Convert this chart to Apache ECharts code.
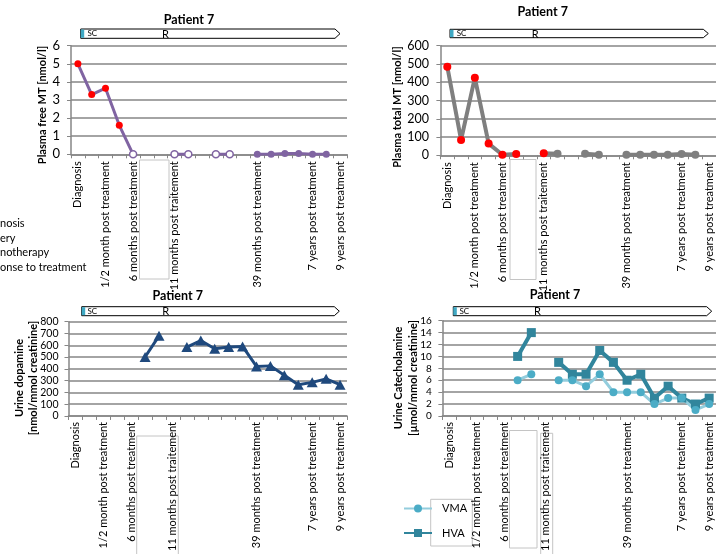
<!DOCTYPE html>
<html>
<head>
<meta charset="utf-8">
<script src="https://cdn.jsdelivr.net/npm/echarts@6/dist/echarts.min.js"></script>
<style>
html,body{margin:0;padding:0;background:#fff;}
#chart{width:716px;height:554px;}
</style>
</head>
<body>
<div id="chart"></div>
<script>
// ---------- data ----------
const categories = ['Diagnosis','','1/2 month post treatment','','6 months post treatment','','','11 months post traitement','','','','','','39 months post treatment','','','','7 years post treatment','','9 years post treatment'];

// Plasma free MT [nmol/l]; status: H = elevated (red), O = open marker, F = filled marker
const freeMt       = [5.0, 3.3, 3.65, 1.6, 0, null, null, 0, 0, null, 0, 0, null, 0, 0, 0.05, 0.05, 0, 0, null];
const freeMtStatus = ['H','H','H','H','O',null,null,'O','O',null,'O','O',null,'F','F','F','F','F','F',null];

// Plasma total MT [nmol/l]
const totalMt       = [485, 84, 425, 64, 3, 7, null, 11, 8, null, 8, 3, null, 3, 3, 3, 3, 7, 3, null];
const totalMtStatus = ['H','H','H','H','H','H',null,'H','F',null,'F','F',null,'F','F','F','F','F','F',null];

// Urine dopamine [nmol/mmol creatinine]
const dopamine = [null, null, null, null, null, 500, 680, null, 585, 640, 570, 585, 590, 420, 425, 345, 265, 285, 315, 265];

// Urine catecholamine metabolites [µmol/mmol creatinine]
const vma = [null, null, null, null, null, 6, 7, null, 6, 6, 5, 7, 4, 4, 4, 2, 3, 3, 1, 2];
const hva = [null, null, null, null, null, 10, 14, null, 9, 7, 7, 11, 9, 6, 7, 3, 5, 3, 2, 3];

const titles = ['Patient 7','Patient 7','Patient 7','Patient 7'];
const yNames = ['Plasma free MT [nmol/l]','Plasma total MT [nmol/l]','Urine dopamine\n[nmol/mmol creatinine]','Urine Catecholamine\n[µmol/mmol creatinine]'];
const yMax = [6, 600, 800, 16];
const yStep = [1, 100, 100, 2];
const sideNotes = ['nosis','ery','notherapy','onse to treatment'];

// ---------- styling / layout ----------
const FONT = 'Lato, "Open Sans", sans-serif';
const AXIS = '#868686';
const grids = [
  {left: 71,    top: 45.7,  width: 276,   height: 108.6},
  {left: 440.4, top: 45.7,  width: 276,   height: 109.6},
  {left: 68.5,  top: 321.7, width: 278.5, height: 109},
  {left: 442.4, top: 320.7, width: 278.6, height: 107.3}
];
const yLabelSize = [13, 12.5, 10.5, 10];
const yLabelMargin = [11, 11.5, 10, 10.5];
const xLabelMargin = [7, 7, 6, 6];

const xAxes = grids.map((g, i) => ({
  type: 'category', gridIndex: i, data: categories, boundaryGap: true,
  axisLine: {lineStyle: {color: AXIS, width: 1.5}},
  axisTick: {show: true, interval: 0, length: 4, lineStyle: {color: AXIS, width: 1}},
  axisLabel: {interval: 0, rotate: 90, fontSize: 11, margin: xLabelMargin[i], color: '#000', fontFamily: FONT},
  splitLine: {show: false}
}));
const yAxes = grids.map((g, i) => ({
  type: 'value', gridIndex: i, min: 0, max: yMax[i], interval: yStep[i],
  axisLine: {show: true, lineStyle: {color: AXIS, width: 1.5}},
  axisTick: {show: true, length: 4, lineStyle: {color: AXIS}},
  axisLabel: {fontSize: yLabelSize[i], margin: yLabelMargin[i], color: '#000', fontFamily: FONT},
  splitLine: {show: true, lineStyle: {color: AXIS, width: 1.5}}
}));

const PURPLE = '#8064A2', GRAY = '#7F7F7F', RED = '#FF0000';
function styled(values, status, mainColor) {
  return values.map((v, i) => {
    if (v === null) return null;
    const s = status[i];
    let it;
    if (s === 'H') it = {color: RED, borderColor: RED, borderWidth: 0};
    else if (s === 'O') it = {color: '#fff', borderColor: mainColor, borderWidth: 1.5};
    else it = {color: mainColor, borderColor: mainColor, borderWidth: 0};
    return {value: v, itemStyle: it};
  });
}

const series = [
  {name: 'Plasma free MT', type: 'line', xAxisIndex: 0, yAxisIndex: 0, data: styled(freeMt, freeMtStatus, PURPLE),
   symbol: 'circle', symbolSize: 7, lineStyle: {color: PURPLE, width: 3}, itemStyle: {color: PURPLE}, connectNulls: false, animation: false},
  {name: 'Plasma total MT', type: 'line', xAxisIndex: 1, yAxisIndex: 1, data: styled(totalMt, totalMtStatus, GRAY),
   symbol: 'circle', symbolSize: 8, lineStyle: {color: GRAY, width: 4}, itemStyle: {color: GRAY}, connectNulls: false, animation: false},
  {name: 'Dopamine', type: 'line', xAxisIndex: 2, yAxisIndex: 2, data: dopamine,
   symbol: 'triangle', symbolSize: [11, 10], lineStyle: {color: '#1F497D', width: 3}, itemStyle: {color: '#1F497D'}, connectNulls: false, animation: false},
  {name: 'HVA', type: 'line', xAxisIndex: 3, yAxisIndex: 3, data: hva,
   symbol: 'rect', symbolSize: 9, lineStyle: {color: '#31859C', width: 4}, itemStyle: {color: '#31859C'}, connectNulls: false, animation: false},
  {name: 'VMA', type: 'line', xAxisIndex: 3, yAxisIndex: 3, data: vma,
   symbol: 'circle', symbolSize: 8, lineStyle: {color: '#93CDDD', width: 3}, itemStyle: {color: '#4BACC6'}, connectNulls: false, animation: false}
];

// titles
const titlePos = [[189, 13.5], [542.7, 5.5], [177.7, 289.5], [555, 288.5]];
const title = titles.map((t, i) => ({
  text: t, left: titlePos[i][0], top: titlePos[i][1], textAlign: 'center', padding: 0,
  textStyle: {fontSize: 12.5, fontWeight: 'bold', color: '#000', fontFamily: FONT}
}));

// graphic decorations
const graphic = [];
function timeline(x0, x1, y0, y1, scX, rX) {
  const ym = (y0 + y1) / 2;
  graphic.push({type: 'polygon', shape: {points: [[x0, y0], [x1 - 5, y0], [x1, ym], [x1 - 5, y1], [x0, y1]]},
    style: {fill: '#fff', stroke: '#000', lineWidth: 1}, z: 10});
  graphic.push({type: 'rect', shape: {x: x0, y: y0 + 0.5, width: 3.5, height: y1 - y0 - 1}, style: {fill: '#3FA9C4'}, z: 11});
  graphic.push({type: 'text', x: scX, y: ym, style: {text: 'SC', fontSize: 8, fontFamily: FONT, fill: '#000', verticalAlign: 'middle'}, z: 11});
  graphic.push({type: 'text', x: rX, y: ym + 0.5, style: {text: 'R', fontSize: 11, fontFamily: FONT, fill: '#000', verticalAlign: 'middle'}, z: 11});
}
timeline(80.7, 340, 29, 38.3, 87.5, 162);
timeline(450, 708.3, 29.3, 37.7, 456.7, 531.7);
timeline(81.7, 339.3, 306.7, 315.7, 87.5, 162.3);
timeline(453.3, 711.7, 306.7, 315.7, 459.5, 534);

// rotated axis names
const yNamePos = [[42.5, 105, 14], [397.5, 107, 14], [26.2, 378, 14.3], [405.8, 378, 15]];
yNames.forEach((n, i) => {
  graphic.push({type: 'text', x: yNamePos[i][0], y: yNamePos[i][1], rotation: Math.PI / 2,
    style: {text: n, fontSize: 11, fontWeight: 'bold', fontFamily: FONT, fill: '#000', align: 'center', verticalAlign: 'middle', lineHeight: yNamePos[i][2]}});
});

// cut-off side notes at left edge
const notesY = [223.5, 238, 252.5, 267.3];
sideNotes.forEach((t, i) => {
  graphic.push({type: 'text', x: 0, y: notesY[i], style: {text: t, fontSize: 11, fontFamily: FONT, fill: '#000', verticalAlign: 'middle'}});
});

// empty frame boxes (screenshot artefacts)
const boxes = [[139.5, 160, 29.5, 119], [510, 159.5, 26, 120], [136.7, 436, 41.6, 120], [509.5, 430.5, 27.5, 117.5], [540.7, 433.3, 12, 125]];
boxes.forEach(b => {
  graphic.push({type: 'rect', shape: {x: b[0], y: b[1], width: b[2], height: b[3]}, style: {fill: 'none', stroke: '#C4C4C4', lineWidth: 1}});
});

// legend frame
graphic.push({type: 'rect', shape: {x: 430.7, y: 499.3, width: 41.6, height: 46.7}, style: {fill: '#fff', stroke: '#C4C4C4', lineWidth: 1}, z: 0});

const chart = echarts.init(document.getElementById('chart'), null, {renderer: 'canvas'});
chart.setOption({
  backgroundColor: '#fff',
  animation: false,
  title: title,
  grid: grids,
  xAxis: xAxes,
  yAxis: yAxes,
  series: series,
  legend: {
    data: ['VMA', 'HVA'], orient: 'vertical', left: 403, top: 503, padding: 0,
    itemWidth: 28, itemHeight: 10, itemGap: 13.5, z: 5,
    textStyle: {fontSize: 11, fontFamily: FONT, color: '#000', padding: [0, 0, 0, 5]}
  },
  graphic: graphic
});
</script>
</body>
</html>
